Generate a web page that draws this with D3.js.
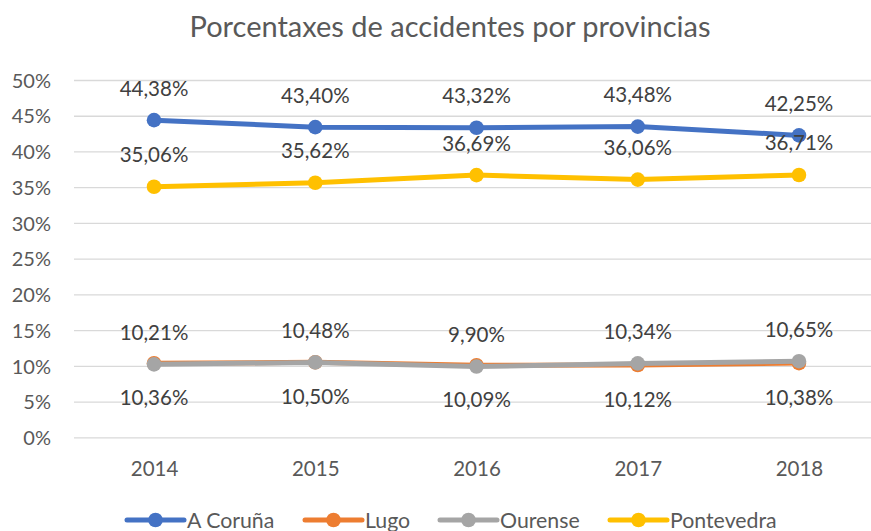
<!DOCTYPE html>
<html>
<head>
<meta charset="utf-8">
<script src="https://cdn.jsdelivr.net/npm/d3@7"></script>
<style>
html,body{margin:0;padding:0;background:#fff;}
svg{display:block;font-family:Lato,"Open Sans",sans-serif;}
</style>
</head>
<body>
<svg id="chart" width="871" height="531"></svg>
<script>
const title = "Porcentaxes de accidentes por provincias";
const years = ["2014", "2015", "2016", "2017", "2018"];
const seriesNames = ["A Coruña", "Lugo", "Ourense", "Pontevedra"];
const aCoruna = [44.38, 43.40, 43.32, 43.48, 42.25];
const lugo = [10.36, 10.50, 10.09, 10.12, 10.38];
const ourense = [10.21, 10.48, 9.90, 10.34, 10.65];
const pontevedra = [35.06, 35.62, 36.69, 36.06, 36.71];
const yTicks = [0, 5, 10, 15, 20, 25, 30, 35, 40, 45, 50];
const colors = ["#4472C4", "#ED7D31", "#A5A5A5", "#FFC000"];
const labelPos = ["above", "below", "above", "above"];

const series = [aCoruna, lugo, ourense, pontevedra].map((vals, i) => ({
  name: seriesNames[i], color: colors[i], pos: labelPos[i],
  values: vals.map((v, j) => ({year: years[j], value: v}))
}));

const svg = d3.select("#chart");
const x = d3.scalePoint().domain(years).range([73.4, 879.6]).padding(0.5);
const y = d3.scaleLinear().domain([0, 50]).range([437.3, 80]);

// title
svg.append("text").attr("x", 450).attr("y", 37).attr("text-anchor", "middle")
  .attr("fill", "#595959").style("font-size", "29px").text(title);

// gridlines
const yAxis = d3.axisLeft(y).tickValues(yTicks).tickSize(-(880 - 74)).tickFormat(d => d + "%");
const gy = svg.append("g").attr("transform", "translate(74,0)").call(yAxis);
gy.select(".domain").remove();
gy.selectAll(".tick line").attr("stroke", "#D9D9D9").attr("stroke-width", 1.3);
gy.selectAll(".tick text").attr("x", -23).attr("dy", "0.36em").attr("fill", "#595959")
  .style("font-size", "20px").style("font-family", "Lato");

// x axis labels
const xAxis = d3.axisBottom(x).tickSize(0).tickPadding(0);
const gx = svg.append("g").attr("transform", "translate(0,437.3)").call(xAxis);
gx.select(".domain").remove();
gx.selectAll(".tick text").attr("y", 38.4).attr("dy", 0).attr("fill", "#595959")
  .style("font-size", "20.5px").style("font-family", "Lato");

const line = d3.line().x(d => x(d.year)).y(d => y(d.value));

series.forEach(s => {
  const g = svg.append("g");
  g.append("path").datum(s.values).attr("d", line).attr("fill", "none")
    .attr("stroke", s.color).attr("stroke-width", 5).attr("stroke-linejoin", "round").attr("stroke-linecap", "round");
  g.selectAll("circle").data(s.values).join("circle")
    .attr("cx", d => x(d.year)).attr("cy", d => y(d.value)).attr("r", 7.3).attr("fill", s.color);
});

// data labels
series.forEach(s => {
  svg.append("g").selectAll("text").data(s.values).join("text")
    .attr("x", d => x(d.year))
    .attr("y", d => y(d.value) + (s.pos === "above" ? -24.5 : 42))
    .attr("text-anchor", "middle").attr("fill", "#404040").style("font-size", "20.5px")
    .text(d => d.value.toFixed(2).replace(".", ",") + "%");
});

// legend
const legendX = [127, 305, 440, 610];
const lg = svg.append("g");
series.forEach((s, i) => {
  const g = lg.append("g").attr("transform", `translate(${legendX[i]},520)`);
  g.append("line").attr("x1", 0).attr("x2", 57).attr("y1", 0).attr("y2", 0)
    .attr("stroke", s.color).attr("stroke-width", 5).attr("stroke-linecap", "round");
  g.append("circle").attr("cx", 28.5).attr("cy", 0).attr("r", 7.3).attr("fill", s.color);
  g.append("text").attr("x", 60).attr("y", 8.3).attr("fill", "#595959").style("font-size", "21.3px").text(s.name);
});
</script>
</body>
</html>
